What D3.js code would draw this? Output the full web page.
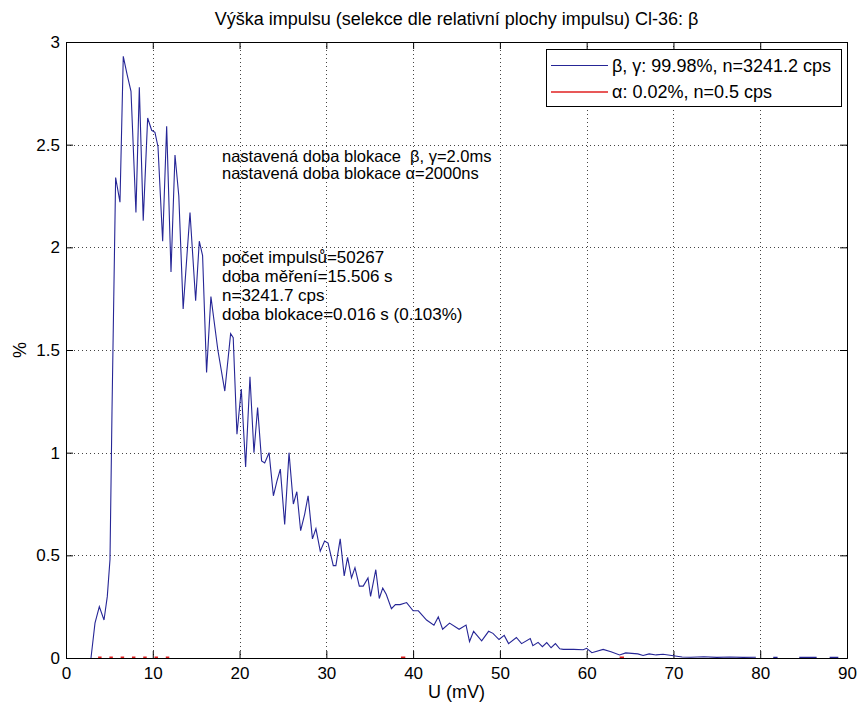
<!DOCTYPE html>
<html><head><meta charset="utf-8">
<script src="https://cdn.jsdelivr.net/npm/d3@7"></script>
<style>
body{margin:0;background:#fff;}
text{font-family:"Liberation Sans",Arial,sans-serif;fill:#000;white-space:pre;}
</style></head>
<body><svg id="c" width="857" height="704"></svg>
<script>
// Beta, gamma spectrum: U (mV) and %
const betaU = [2.88,3.34,3.84,4.38,4.76,5.07,5.3,5.72,6.22,6.6,7.05,7.49,8.06,8.45,8.9,9.41,9.87,10.25,10.6,11.14,11.6,12.1,12.56,13.0,13.5,14.29,14.94,15.36,15.74,16.2,16.7,17.5,18.3,18.97,19.27,19.7,20.2,20.7,21.2,21.66,22.08,22.54,22.9,23.4,23.9,24.3,24.7,25.2,25.7,26.2,26.6,27.04,27.5,27.9,28.4,28.8,29.3,29.8,30.2,30.8,31.1,31.6,32.06,32.45,32.9,33.3,33.8,34.25,34.8,35.1,35.7,36.1,36.5,36.9,37.5,37.96,38.5,39.25,40.0,40.6,41.55,42.4,42.9,43.4,44.2,45.3,46.1,46.5,46.97,47.9,48.7,49.2,49.9,50.5,51.0,51.9,52.5,53.5,53.8,54.4,54.9,55.4,55.9,56.4,56.9,57.3,58.5,59.6,60.0,60.6,61.9,62.8,63.8,64.5,65.9,66.5,67.2,68.0,68.8,70.0,71.0,72.0,73.5,75.0,76.5,78.0,79.5,80.5,81.5,82.0,83.5,84.5,86.5,87.0,88.0,89.0];
const betaPct = [0,0.17,0.25,0.185,0.30,0.48,1.2,2.34,2.22,2.93,2.84,2.76,2.17,2.78,2.13,2.63,2.57,2.56,2.49,2.03,2.59,1.88,2.45,2.25,1.70,2.17,1.74,2.03,1.96,1.39,1.76,1.50,1.30,1.58,1.56,1.09,1.31,0.93,1.37,1.0,1.22,0.96,0.95,1.0,0.79,0.86,0.92,0.65,1.0,0.75,0.81,0.62,0.70,0.79,0.58,0.63,0.52,0.57,0.56,0.45,0.45,0.58,0.40,0.49,0.39,0.44,0.35,0.35,0.39,0.30,0.43,0.29,0.34,0.31,0.24,0.26,0.26,0.27,0.23,0.23,0.185,0.16,0.20,0.14,0.17,0.14,0.16,0.08,0.13,0.084,0.13,0.12,0.09,0.11,0.07,0.10,0.07,0.095,0.06,0.076,0.055,0.075,0.05,0.07,0.045,0.042,0.042,0.04,0.047,0.026,0.042,0.03,0.015,0.025,0.02,0.012,0.02,0.015,0.018,0.011,0.005,0.004,0.006,0.003,0.005,0.003,0.004,null,0.003,0.003,null,0.003,0.003,null,0.003,0.003];
// Alpha spectrum (near zero, gaps where empty)
const alphaU = [3.7,4.1,null,5.0,5.4,null,6.3,6.7,null,7.6,8.0,null,8.9,9.3,null,10.2,10.6,null,11.5,11.9,null,38.6,39.1,null,63.8,64.3];
const alphaPct = [0.004,0.004,null,0.004,0.004,null,0.004,0.004,null,0.004,0.004,null,0.004,0.004,null,0.004,0.004,null,0.004,0.004,null,0.004,0.004,null,0.004,0.004];
const xTicks = [0,10,20,30,40,50,60,70,80,90];
const yTicks = [0,0.5,1,1.5,2,2.5,3];
const titleText = "Výška impulsu (selekce dle relativní plochy impulsu) Cl-36: β";
const legendLabels = ["β, γ: 99.98%, n=3241.2 cps","α: 0.02%, n=0.5 cps"];
const noteA = ["nastavená doba blokace  β, γ=2.0ms","nastavená doba blokace α=2000ns"];
const noteB = ["počet impulsů=50267","doba měření=15.506 s","n=3241.7 cps","doba blokace=0.016 s (0.103%)"];

const svg = d3.select("#c");
const L=66, R=847, T=42, B=658;
const x = d3.scaleLinear().domain([0,90]).range([L,R]);
const y = d3.scaleLinear().domain([0,3]).range([B,T]);
const blue="#262696", red="#e02020";

// grid
const g = svg.append("g");
g.selectAll(".gx").data(xTicks.slice(1,-1)).join("line")
 .attr("x1",d=>Math.round(x(d))+0.5).attr("x2",d=>Math.round(x(d))+0.5).attr("y1",T).attr("y2",B)
 .attr("stroke","#444").attr("stroke-width",1).attr("stroke-dasharray","1,3");
g.selectAll(".gy").data(yTicks.slice(1,-1)).join("line")
 .attr("y1",d=>Math.round(y(d))+0.5).attr("y2",d=>Math.round(y(d))+0.5).attr("x1",L).attr("x2",R)
 .attr("stroke","#444").attr("stroke-width",1).attr("stroke-dasharray","1,3");

// axes
const fs = "17px";
const ax = svg.append("g").attr("transform",`translate(0,${B})`).call(d3.axisBottom(x).tickValues(xTicks).tickSize(-7).tickPadding(9).tickFormat(d3.format("d")));
const ay = svg.append("g").attr("transform",`translate(${L},0)`).call(d3.axisLeft(y).tickValues(yTicks).tickSize(-7).tickPadding(6).tickFormat(d=>String(d)));
const at = svg.append("g").attr("transform",`translate(0,${T})`).call(d3.axisTop(x).tickValues(xTicks).tickSize(-7).tickFormat(""));
const ar = svg.append("g").attr("transform",`translate(${R},0)`).call(d3.axisRight(y).tickValues(yTicks).tickSize(-7).tickFormat(""));
[ax,ay,at,ar].forEach(a=>{a.selectAll("text").style("font-size",fs).attr("font-family","Liberation Sans, Arial, sans-serif");
 a.select(".domain").attr("stroke","#000"); a.selectAll(".tick line").attr("stroke","#000");});

// series
const lineB = d3.line().defined((d,i)=>betaPct[i]!==null).x((d,i)=>x(betaU[i])).y((d,i)=>y(betaPct[i]));
svg.append("path").attr("d",lineB(betaU)).attr("fill","none").attr("stroke",blue).attr("stroke-width",1.1);
const lineA = d3.line().defined((d,i)=>alphaPct[i]!==null).x((d,i)=>x(alphaU[i])).y((d,i)=>y(alphaPct[i]));
svg.append("path").attr("d",lineA(alphaU)).attr("fill","none").attr("stroke",red).attr("stroke-width",1.5);

// title and labels
svg.append("text").attr("x",(L+R)/2).attr("y",25).attr("text-anchor","middle").style("font-size","18px").text(titleText);
svg.append("text").attr("x",(L+R)/2).attr("y",698).attr("text-anchor","middle").style("font-size","18px").text("U (mV)");
svg.append("text").attr("transform",`translate(26,${(T+B)/2}) rotate(-90)`).attr("text-anchor","middle").style("font-size","18px").text("%");

// notes
noteA.forEach((t,i)=>svg.append("text").attr("x",222).attr("y",162+i*17).style("font-size","16.5px").text(t));
noteB.forEach((t,i)=>svg.append("text").attr("x",222).attr("y",263+i*19).style("font-size","17px").text(t));

// legend
const lg = svg.append("g");
lg.append("rect").attr("x",546.5).attr("y",49.5).attr("width",295).attr("height",57).attr("fill","#fff").attr("stroke","#000");
lg.append("line").attr("x1",551).attr("x2",608).attr("y1",65.5).attr("y2",65.5).attr("stroke",blue).attr("stroke-width",1);
lg.append("line").attr("x1",551).attr("x2",608).attr("y1",92).attr("y2",92).attr("stroke",red).attr("stroke-width",1.5);
legendLabels.forEach((t,i)=>lg.append("text").attr("x",612).attr("y",71.5+i*26).style("font-size","18px").text(t));
</script></body></html>
